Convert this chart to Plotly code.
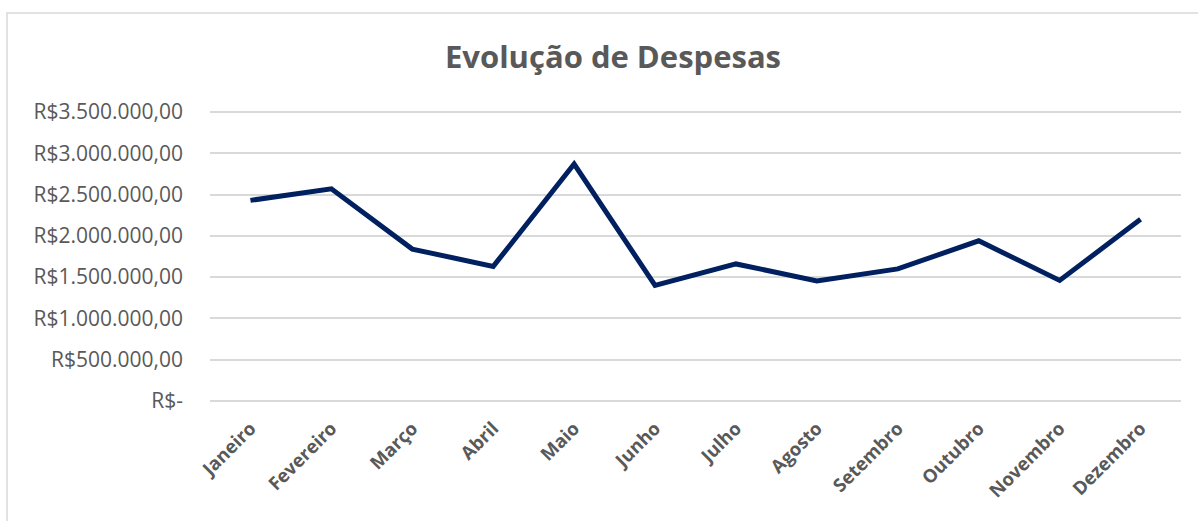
import plotly.graph_objects as go

meses = ["Janeiro", "Fevereiro", "Março", "Abril", "Maio", "Junho", "Julho",
         "Agosto", "Setembro", "Outubro", "Novembro", "Dezembro"]
despesas = [2430000, 2570000, 1840000, 1630000, 2870000, 1400000, 1660000,
            1455000, 1600000, 1940000, 1460000, 2200000]
tick_vals = [0, 500000, 1000000, 1500000, 2000000, 2500000, 3000000, 3500000]
tick_text = ["R$-", "R$500.000,00", "R$1.000.000,00", "R$1.500.000,00",
             "R$2.000.000,00", "R$2.500.000,00", "R$3.000.000,00", "R$3.500.000,00"]

W, H = 1198, 521
L, R, T, B = 210, 17, 110, 118
GRAY = "#595959"
FONT = "Open Sans"
PAD = 25000

fig = go.Figure()
fig.add_trace(go.Scatter(x=meses, y=despesas, mode="lines",
                         line=dict(color="#002060", width=5),
                         hoverinfo="x+y"))

fig.update_layout(
    width=W, height=H,
    margin=dict(l=L, r=R, t=T, b=B),
    paper_bgcolor="white", plot_bgcolor="white",
    showlegend=False,
    title=dict(text="<b>Evolução de Despesas</b>", x=613 / W, xanchor="center",
               y=1 - 57 / H, yanchor="middle",
               font=dict(family=FONT, size=31, color=GRAY)),
    xaxis=dict(type="category", range=[-0.5, 11.5], showgrid=False,
               showline=False, ticks="", tickangle=-45, ticklabelstandoff=10,
               tickfont=dict(family=FONT, size=18.5, color=GRAY, weight="bold")),
    yaxis=dict(range=[-PAD, 3500000 + PAD], tickvals=tick_vals, ticktext=tick_text,
               showgrid=True, gridcolor="#d9d9d9", gridwidth=1.5,
               zeroline=False, showline=False, ticks="", ticklabelstandoff=26,
               tickfont=dict(family=FONT, size=21, color=GRAY)),
    shapes=[dict(type="rect", xref="paper", yref="paper",
                 x0=-(L - 7) / (W - L - R), x1=1 + (R + 5) / (W - L - R),
                 y0=-(B + 5) / (H - T - B), y1=1 + (T - 13) / (H - T - B),
                 line=dict(color="#d9d9d9", width=1.5), layer="below")],
)

fig.write_html("out.html", config={"displayModeBar": False},
               post_script="document.body.style.margin='0';")
